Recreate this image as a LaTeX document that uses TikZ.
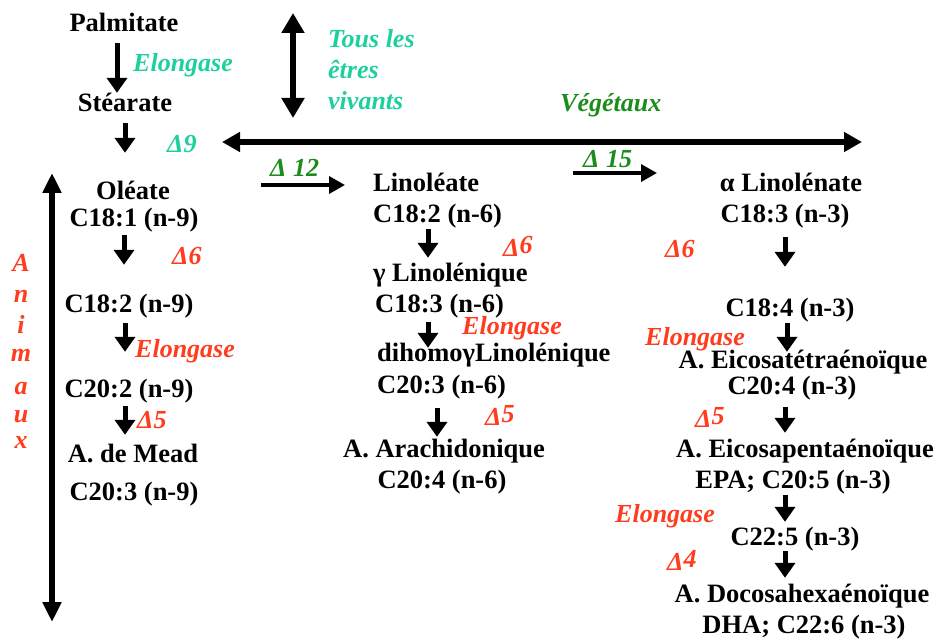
\documentclass[tikz,border=0pt]{standalone}
\usepackage{fontspec}
\setmainfont{Liberation Serif}
\usetikzlibrary{arrows.meta}
\definecolor{teal1}{RGB}{30,208,158}
\definecolor{green1}{RGB}{28,140,28}
\definecolor{red1}{RGB}{255,60,30}
\begin{document}
\begin{tikzpicture}[x=1pt,y=-1pt,
  cmp/.style={font=\bfseries\fontsize{26.5}{27}\selectfont, inner sep=0pt, text height=19pt, text depth=6pt, anchor=base},
  cmpw/.style={cmp, anchor=base west},
  lab/.style={font=\bfseries\itshape\fontsize{26}{27}\selectfont, inner sep=0pt, anchor=base west},
  tl/.style={lab, text=teal1},
  gl/.style={lab, text=green1},
  rl/.style={lab, text=red1},
  dn/.style={line width=5pt, -{Triangle[width=20pt,length=15pt]}},
  big/.style={line width=6pt, {Triangle[width=22pt,length=20pt]}-{Triangle[width=22pt,length=20pt]}},
  thin/.style={line width=3.5pt, -{Triangle[width=17pt,length=16pt]}}
]
\useasboundingbox (0,0) rectangle (938,639);

% left column
\node[cmp] (palm) at (124,32) {Palmitate};
\node[cmp] (stear) at (125,112) {Stéarate};
\node[cmp] (ole) at (133,200) {Oléate};
\node[cmp] (c181) at (134,227) {C18:1 (n-9)};
\node[cmp] (c182n9) at (129,313) {C18:2 (n-9)};
\node[cmp] (c202) at (129,397) {C20:2 (n-9)};
\node[cmp] (mead) at (133,462) {A. de Mead};
\node[cmp] (c203n9) at (134,500) {C20:3 (n-9)};

% middle column
\node[cmpw] (lino) at (373,192) {Linoléate};
\node[cmpw] (c182n6) at (373,223) {C18:2 (n-6)};
\node[cmpw] (gamma) at (373,282) {γ Linolénique};
\node[cmpw] (c183n6) at (375,313) {C18:3 (n-6)};
\node[cmpw] (dihomo) at (377,362) {dihomoγLinolénique};
\node[cmpw] (c203n6) at (377,393) {C20:3 (n-6)};
\node[cmp] (arach) at (444,457) {A. Arachidonique};
\node[cmp] (c204n6) at (442,488) {C20:4 (n-6)};

% right column
\node[cmp] (alin) at (791,192) {α Linolénate};
\node[cmp] (c183n3) at (785,223) {C18:3 (n-3)};
\node[cmp] (c184) at (790,317) {C18:4 (n-3)};
\node[cmp] (eitetra) at (803,368) {A. Eicosatétraénoïque};
\node[cmp] (c204n3) at (792,395) {C20:4 (n-3)};
\node[cmp] (eipenta) at (805,457) {A. Eicosapentaénoïque};
\node[cmp] (epa) at (793,488) {EPA; C20:5 (n-3)};
\node[cmp] (c225) at (795,545) {C22:5 (n-3)};
\node[cmp] (docosa) at (802,602) {A. Docosahexaénoïque};
\node[cmp] (dha) at (804,633) {DHA; C22:6 (n-3)};

% enzyme labels
\node[tl] (el1) at (133,72) {Elongase};
\node[tl] (d9) at (167,153) {Δ9};
\node[tl] (tous1) at (328,48) {Tous les};
\node[tl] (tous2) at (328,79) {êtres};
\node[tl] (tous3) at (328,110) {vivants};
\node[gl] (veg) at (560,112) {Végétaux};
\node[gl] (d12) at (270,177) {Δ 12};
\node[gl] (d15) at (583,168) {Δ 15};
\node[rl] (d6a) at (172,265) {Δ6};
\node[rl] (el2) at (135,358) {Elongase};
\node[rl] (d5a) at (137,428) {Δ5};
\node[rl] (d6b) at (503,257) {Δ\raisebox{3pt}{6}};
\node[rl] (el3) at (462,335) {Elongase};
\node[rl] (d5b) at (485,425) {Δ\raisebox{3pt}{5}};
\node[rl] (d6c) at (665,258) {Δ6};
\node[rl] (el4) at (645,345) {Elongase};
\node[rl] (d5c) at (695,427) {Δ\raisebox{3pt}{5}};
\node[rl] (el5) at (615,522) {Elongase};
\node[rl] (d4) at (667,570) {Δ\raisebox{3pt}{4}};

% Animaux
\foreach \l/\yy [count=\i] in {A/272,n/303,i/334,m/361,a/394,u/422,x/448}
  \node[lab, text=red1, anchor=base] (an\i) at (21,\yy) {\l};

% free arrows
\coordinate (tv1) at (293,13);
\coordinate (tv2) at (293,118);
\coordinate (hz1) at (222,142);
\coordinate (hz2) at (862,142);
\coordinate (lv1) at (52,173);
\coordinate (lv2) at (52,622);
\coordinate (a12s) at (261,185);
\coordinate (a15s) at (573,173);
\draw[big] (tv1) -- (tv2);
\draw[big, {Triangle[width=19pt,length=18pt]}-{Triangle[width=19pt,length=18pt]}] (hz1) -- (hz2);
\draw[big, line width=5.5pt, {Triangle[width=18pt,length=20pt]}-{Triangle[width=18pt,length=20pt]}] (lv1) -- (lv2);
\draw[thin, shorten >=28pt] (a12s) -- (a12s -| lino.west);
\draw[thin] (a15s) -- ++(84,0);

% pathway arrows
\draw[dn, shorten <=5pt] (palm.south -| 117,0) -- (stear.north -| 117,0);
\draw[dn, shorten <=5pt, shorten >=28pt] (stear.south -| 125,0) -- (ole.north -| 125,0);
\draw[dn, shorten <=2pt, shorten >=29pt] (c181.south -| 124,0) -- (c182n9.north -| 124,0);
\draw[dn, shorten <=4pt, shorten >=26pt] (c182n9.south -| 125,0) -- (c202.north -| 125,0);
\draw[dn, shorten <=3pt, shorten >=8pt] (c202.south -| 125,0) -- (mead.north -| 125,0);

\draw[dn, shorten >=5pt] (c182n6.south -| 428,0) -- (gamma.north -| 428,0);
\draw[dn, shorten <=3pt, shorten >=-5pt] (c183n6.south -| 428,0) -- (dihomo.north -| 428,0);
\draw[dn, shorten <=9pt, shorten >=1pt] (c203n6.south -| 437,0) -- (arach.north -| 437,0);

\draw[dn, shorten <=8pt, shorten >=31pt] (c183n3.south -| 785,0) -- (c184.north -| 785,0);
\draw[dn, shorten >=-3pt] (c184.south -| 787,0) -- (eitetra.north -| 787,0);
\draw[dn, shorten <=6pt, shorten >=5pt] (c204n3.south -| 785,0) -- (eipenta.north -| 785,0);
\draw[dn, shorten <=1pt, shorten >=4pt] (epa.south -| 785,0) -- (c225.north -| 785,0);
\draw[dn, shorten >=5pt] (c225.south -| 785,0) -- (docosa.north -| 785,0);
\end{tikzpicture}
\end{document}
